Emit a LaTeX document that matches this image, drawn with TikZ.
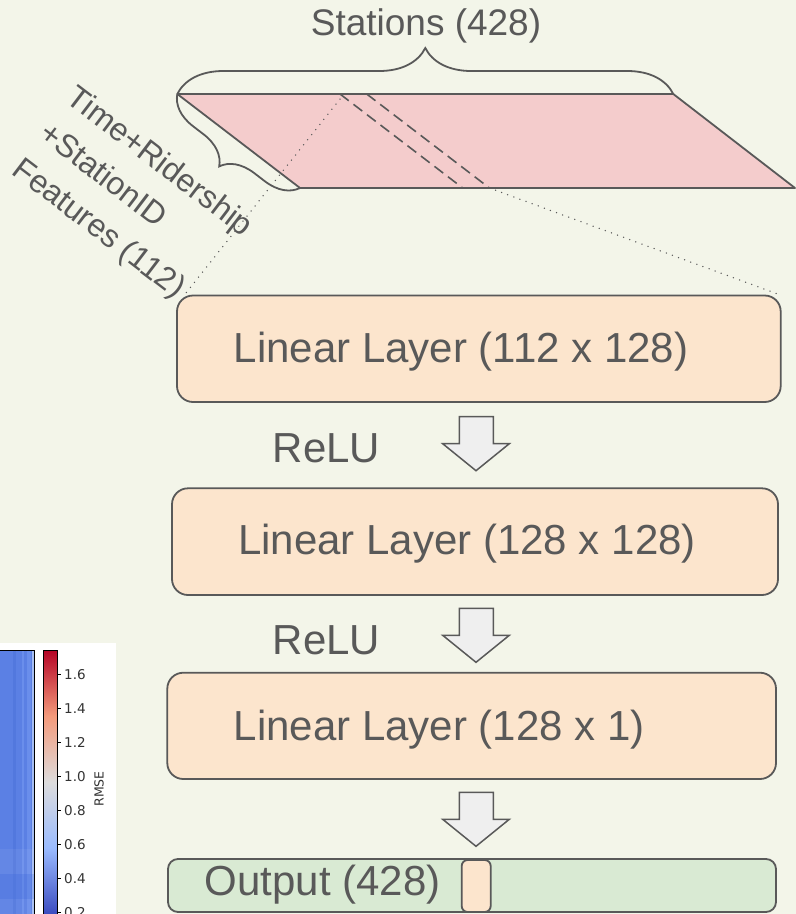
\documentclass[tikz,border=0pt]{standalone}
\usepackage{fontspec}
\setmainfont{Liberation Sans}
\newfontfamily\plotfont{DejaVu Sans}
\usetikzlibrary{decorations.pathreplacing}

\definecolor{paper}{RGB}{243,245,233}
\definecolor{ink}{HTML}{595959}
\definecolor{layerfill}{HTML}{FCE5CD}
\definecolor{outfill}{HTML}{D9EAD3}
\definecolor{datafill}{HTML}{F4CCCC}
\definecolor{arrowfill}{HTML}{EFEFEF}
\definecolor{heatblue}{HTML}{5B80E4}
\definecolor{heatdark}{HTML}{5278DE}
\definecolor{heatlight}{HTML}{6A8EEB}
\definecolor{heatpale}{HTML}{A7BFF3}
\definecolor{cwred}{HTML}{B40426}
\definecolor{cwsalmon}{HTML}{F49A7B}
\definecolor{cwgray}{HTML}{DDDCDC}
\definecolor{cwlight}{HTML}{9ABBFF}
\definecolor{cwblue}{HTML}{3B4CC0}

\tikzset{
  layer/.style={draw=ink,line width=1.8pt,fill=layerfill,rounded corners=16pt},
  big/.style={text=ink,font=\fontsize{42}{50}\selectfont,inner sep=0pt,anchor=base west},
  brace/.style={draw=ink,line width=1.8pt,decorate,decoration={brace,amplitude=#1}},
  brace/.default=46pt,
  blockarrow/.style={draw=ink,line width=1.5pt,fill=arrowfill,line join=miter},
  slice/.style={draw=ink,line width=1.6pt,dash pattern=on 11pt off 6pt},
  zoomline/.style={draw=ink,line width=1.5pt,line cap=round,dash pattern=on 0pt off 6.5pt},
  tick/.style={font=\plotfont\fontsize{13.5}{16}\selectfont,text=black!80,inner sep=0pt,anchor=west}
}

\begin{document}
\begin{tikzpicture}[x=1pt,y=-1pt]
\fill[paper] (0,0) rectangle (796,914);
\clip (0,0) rectangle (796,914);

% plot panel, bottom left
\fill[white] (0,643) rectangle (116,914);
\fill[heatblue] (0,650) rectangle (34,914);
\fill[heatdark] (13.3,650) rectangle (16.3,914);
\fill[heatlight] (22,650) rectangle (23.5,914);
\fill[heatlight] (27,650) rectangle (31,914);
\fill[heatpale] (32,650) rectangle (34,914);
\fill[white,opacity=0.06] (0,849) rectangle (34,874);
\fill[heatdark,opacity=0.25] (0,874) rectangle (34,899);
\fill[white,opacity=0.05] (0,899) rectangle (34,914);
\draw[black,line width=0.8pt] (0,650) -- (34,650) -- (34,914);
\shade[top color=cwred,bottom color=cwsalmon] (43,650) rectangle (57,716);
\shade[top color=cwsalmon,bottom color=cwgray] (43,716) rectangle (57,782);
\shade[top color=cwgray,bottom color=cwlight] (43,782) rectangle (57,848);
\shade[top color=cwlight,bottom color=cwblue] (43,848) rectangle (57,914);
\draw[black,line width=0.8pt] (43,914) -- (43,650) -- (57,650) -- (57,914);
\foreach \v [count=\i from 0] in {1.6,1.4,1.2,1.0,0.8,0.6,0.4,0.2}{
  \draw[black,line width=0.7pt] (57,674.5+34*\i) -- (61,674.5+34*\i);
  \node[tick] (tick\i) at (64,674.5+34*\i) {\v};
}
\node[font=\plotfont\fontsize{12.5}{15}\selectfont,text=black!80,rotate=90] (rmse) at (99,789) {RMSE};

% input data slab
\coordinate (pNW) at (177.3,94);
\coordinate (pNE) at (673.3,94);
\coordinate (pSE) at (795,188);
\coordinate (pSW) at (300,188);
\filldraw[fill=datafill,draw=ink,line width=1.8pt,line join=round] (pNW) -- (pNE) -- (pSE) -- (pSW) -- cycle;
\coordinate (sliceA) at (340,94);
\coordinate (sliceB) at (366.7,94);
\coordinate (sliceAend) at (462.7,188);
\coordinate (sliceBend) at (489.4,188);
\draw[slice] (sliceA) -- (sliceAend);
\draw[slice] (sliceB) -- (sliceBend);
\draw[brace] (pNW) -- (pNE);
\draw[brace=32pt] (pSW) -- (pNW);
\node[text=ink,font=\fontsize{37}{44}\selectfont,inner sep=0pt,anchor=base] (stations) at (426,35) {Stations (428)};
\node[text=ink,font=\fontsize{32}{45}\selectfont,inner sep=0pt,align=left,anchor=north west,rotate=-37.3] (features) at (79,83) {Time+Ridership\\+StationID\\Features (112)};

% layers
\node[layer,minimum width=603.7pt,minimum height=106.5pt] (layerA) at (478.85,348.75) {};
\node[layer,minimum width=606pt,minimum height=106.7pt] (layerB) at (475,541.65) {};
\node[layer,minimum width=608.7pt,minimum height=106.3pt] (layerC) at (471.65,725.85) {};
\node[layer,fill=outfill,rounded corners=10pt,minimum width=608pt,minimum height=53pt] (output) at (472,885.5) {};
\node[layer,rounded corners=6pt,minimum width=29pt,minimum height=52pt] (slot) at (476.2,886) {};
\node[big] (txtA) at (233.6,362) {Linear Layer (112 x 128)};
\node[big] (txtB) at (238,554) {Linear Layer (128 x 128)};
\node[big] (txtC) at (233.6,740) {Linear Layer (128 x 1)};
\node[big] (txtOut) at (204.7,895) {Output (428)};
\node[big] (reluA) at (272.7,462.7) {ReLU};
\node[big] (reluB) at (272.7,654) {ReLU};
\foreach \t in {416.7,608.3,792.3}
  \draw[blockarrow] (459.3,\t) -- ++(34,0) -- ++(0,27) -- ++(16,0) -- (476,\t+54) -- (442.7,\t+27) -- ++(16.6,0) -- cycle;

% zoom from slab to first layer
\draw[zoomline] ([yshift=-5pt]sliceA) -- ([xshift=7pt,yshift=-2pt]layerA.north west);
\draw[zoomline] (sliceBend) -- ([xshift=-5pt,yshift=1pt]layerA.north east);
\end{tikzpicture}
\end{document}
